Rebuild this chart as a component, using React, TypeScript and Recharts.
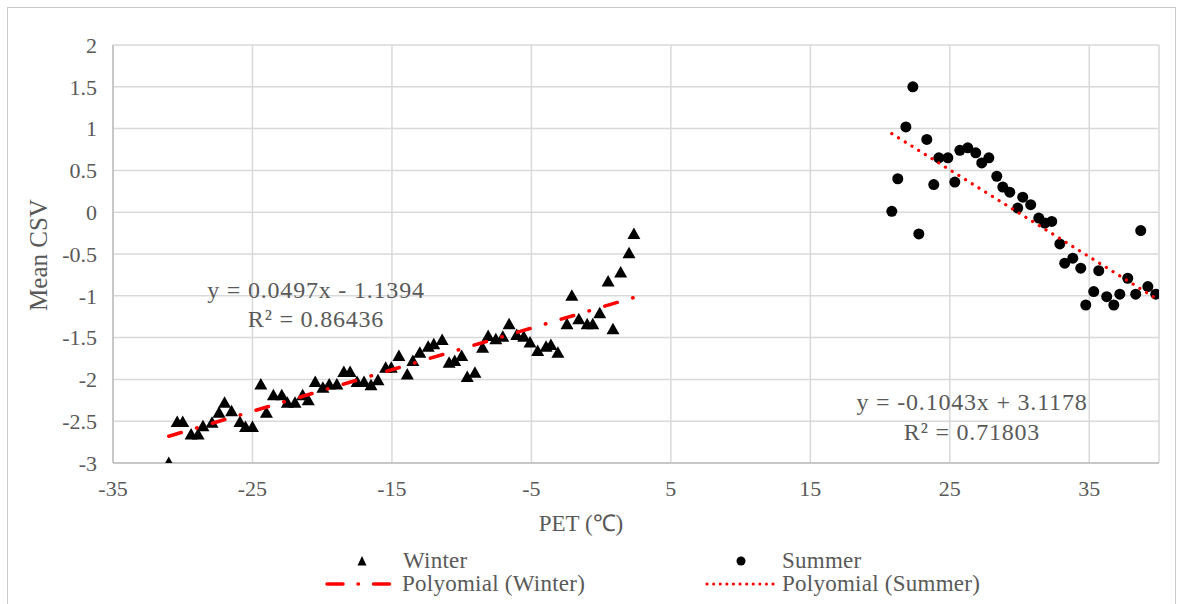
import { ScatterChart, Scatter, XAxis, YAxis, CartesianGrid } from "recharts"

// Winter points (PET °C, mean CSV)
const winterPET = [
  -31.0, -30.4, -30.0, -29.4, -28.9, -28.55, -27.9, -27.4, -27.0, -26.5, -25.9, -25.5, -25.0,
  -24.4, -24.0, -23.5, -22.9, -22.5, -21.95, -21.4, -21.0, -20.5, -19.95, -19.5, -18.95,
  -18.45, -18.0, -17.5, -17.0, -16.5, -16.0, -15.45, -15.05, -14.5, -13.9, -13.5, -13.0,
  -12.4, -12.0, -11.4, -10.9, -10.5, -10.0, -9.6, -9.05, -8.5, -8.1, -7.55, -7.05, -6.6,
  -6.05, -5.55, -5.1, -4.55, -3.95, -3.6, -3.1, -2.45, -2.1, -1.6, -1.0, -0.6, -0.1, 0.5,
  0.85, 1.4, 2.0, 2.35,
]
const winterCSV = [
  -3.0, -2.51, -2.51, -2.66, -2.66, -2.56, -2.52, -2.4, -2.28, -2.38, -2.51, -2.57, -2.57,
  -2.06, -2.4, -2.19, -2.19, -2.28, -2.28, -2.19, -2.25, -2.03, -2.1, -2.06, -2.06,
  -1.91, -1.91, -2.03, -2.03, -2.07, -2.01, -1.86, -1.86, -1.72, -1.94, -1.78, -1.68,
  -1.61, -1.58, -1.53, -1.8, -1.78, -1.72, -1.97, -1.92, -1.62, -1.48, -1.52, -1.49, -1.34,
  -1.47, -1.49, -1.56, -1.66, -1.61, -1.59, -1.68, -1.34, -1.0, -1.28, -1.34, -1.34, -1.21, -0.83,
  -1.4, -0.72, -0.49, -0.26,
]

// Summer points
const summerPET = [
  20.84, 21.27, 21.85, 22.35, 22.78, 23.35, 23.85, 24.21, 24.86, 25.36, 25.72, 26.29, 26.86,
  27.29, 27.8, 28.37, 28.8, 29.3, 29.87, 30.23, 30.8, 31.38, 31.81, 32.31, 32.89, 33.24,
  33.82, 34.39, 34.75, 35.32, 35.68, 36.25, 36.76, 37.19, 37.76, 38.33, 38.69, 39.2, 39.77,
]
const summerCSV = [
  0.01, 0.4, 1.02, 1.5, -0.26, 0.87, 0.33, 0.65, 0.65, 0.36, 0.74, 0.77, 0.71,
  0.59, 0.65, 0.43, 0.3, 0.24, 0.05, 0.18, 0.09, -0.07, -0.13, -0.11, -0.38, -0.61,
  -0.55, -0.67, -1.11, -0.95, -0.7, -1.01, -1.11, -0.98, -0.79, -0.98, -0.22, -0.89, -0.98,
]

// trend line end points
const winterTrendPET = [-31.0, 2.35]
const winterTrendCSV = [-2.68, -1.02]
const summerTrendPET = [20.84, 39.77]
const summerTrendCSV = [0.94, -1.03]

const xTicks = [-35, -25, -15, -5, 5, 15, 25, 35]
const yTicks = [-3, -2.5, -2, -1.5, -1, -0.5, 0, 0.5, 1, 1.5, 2]

const toPoints = (xs: number[], ys: number[]) => xs.map((x, i) => ({ x, y: ys[i] }))

const FONT = '"Liberation Serif", "Times New Roman", serif'
const GREY = "#595959"
const RED = "#ff0000"

function Triangle(props: any) {
  const { cx, cy } = props
  return <polygon points={`${cx},${cy - 6.5} ${cx + 6.5},${cy + 5} ${cx - 6.5},${cy + 5}`} fill="#000" />
}

function Dot(props: any) {
  const { cx, cy } = props
  return <circle cx={cx} cy={cy} r={5.5} fill="#000" />
}

const tickStyle = { fill: GREY, fontSize: 22, fontFamily: FONT }

const eqStyle: any = {
  position: "absolute",
  transform: "translateX(-50%)",
  color: GREY,
  fontSize: 24,
  letterSpacing: 0.8,
  textAlign: "center",
  whiteSpace: "nowrap",
}

const legendText: any = { position: "absolute", lineHeight: "22px", fontSize: 23, letterSpacing: 0.25, whiteSpace: "nowrap" }

export default function App() {
  return (
    <div style={{ position: "fixed", left: 0, top: 0, width: 1182, height: 604, overflow: "hidden", background: "#fff", fontFamily: FONT }}>
      <div style={{ position: "absolute", left: 7, top: 7, width: 1167, height: 640, border: "1px solid #c8c8c8" }} />
      <div style={{ position: "absolute", left: 0, top: 0 }}>
        <ScatterChart width={1182} height={604} margin={{ top: 45, right: 23, bottom: 71, left: 53 }}>
          <CartesianGrid stroke="#d9d9d9" strokeWidth={1.5} />
          <XAxis
            type="number"
            dataKey="x"
            domain={[-35, 40]}
            ticks={xTicks}
            interval={0}
            height={70}
            tickLine={false}
            tickMargin={11}
            axisLine={{ stroke: "#bfbfbf", strokeWidth: 1.5 }}
            tick={tickStyle}
            allowDataOverflow
            label={{
              content: () => (
                <text x={581} y={531} textAnchor="middle" fill={GREY} fontSize={23} fontFamily={FONT}>
                  PET (℃)
                </text>
              ),
            }}
          />
          <YAxis
            type="number"
            dataKey="y"
            domain={[-3, 2]}
            ticks={yTicks}
            interval={0}
            width={60}
            tickLine={false}
            tickMargin={10}
            axisLine={{ stroke: "#bfbfbf", strokeWidth: 1.5 }}
            tick={tickStyle}
            allowDataOverflow
            label={{
              content: () => (
                <text
                  x={38}
                  y={255}
                  transform="rotate(-90 38 255)"
                  textAnchor="middle"
                  dominantBaseline="central"
                  fill={GREY}
                  fontSize={25}
                  fontFamily={FONT}
                >
                  Mean CSV
                </text>
              ),
            }}
          />
          <Scatter name="Winter" data={toPoints(winterPET, winterCSV)} shape={Triangle} isAnimationActive={false} />
          <Scatter name="Summer" data={toPoints(summerPET, summerCSV)} shape={Dot} isAnimationActive={false} />
          <Scatter
            name="Polyomial (Winter)"
            data={toPoints(winterTrendPET, winterTrendCSV)}
            fill={RED}
            shape={() => <g />}
            line={{ stroke: RED, strokeWidth: 3.5, strokeDasharray: "13 16 0.5 16", strokeLinecap: "round" }}
            isAnimationActive={false}
          />
          <Scatter
            name="Polyomial (Summer)"
            data={toPoints(summerTrendPET, summerTrendCSV)}
            fill={RED}
            shape={() => <g />}
            line={{ stroke: RED, strokeWidth: 3.2, strokeDasharray: "0.1 7.8", strokeLinecap: "round" }}
            isAnimationActive={false}
          />
        </ScatterChart>
      </div>

      {/* trend line equations */}
      <div style={{ ...eqStyle, left: 316, top: 275.5, lineHeight: "29px" }}>
        y = 0.0497x - 1.1394
        <br />
        R² = 0.86436
      </div>
      <div style={{ ...eqStyle, left: 972, top: 387, lineHeight: "30px" }}>
        y = -0.1043x + 3.1178
        <br />
        R² = 0.71803
      </div>

      {/* legend */}
      <div style={{ position: "absolute", left: 0, top: 549, width: 1182, height: 55, color: GREY }}>
        <svg width={1182} height={55} style={{ position: "absolute", left: 0, top: 0 }}>
          <polygon points="362,7 366.5,16.5 357.5,16.5" fill="#000" />
          <circle cx={741} cy={12} r={4.5} fill="#000" />
          <line x1={327} y1={35} x2={395} y2={35} stroke={RED} strokeWidth={3.5} strokeDasharray="16 15 0.5 15" strokeLinecap="round" />
          <line x1={707} y1={35} x2={775} y2={35} stroke={RED} strokeWidth={3} strokeDasharray="0.1 6.5" strokeLinecap="round" />
        </svg>
        <span style={{ ...legendText, left: 403, top: 1 }}>Winter</span>
        <span style={{ ...legendText, left: 782, top: 1 }}>Summer</span>
        <span style={{ ...legendText, left: 402, top: 24 }}>Polyomial (Winter)</span>
        <span style={{ ...legendText, left: 782, top: 24 }}>Polyomial (Summer)</span>
      </div>
    </div>
  )
}
